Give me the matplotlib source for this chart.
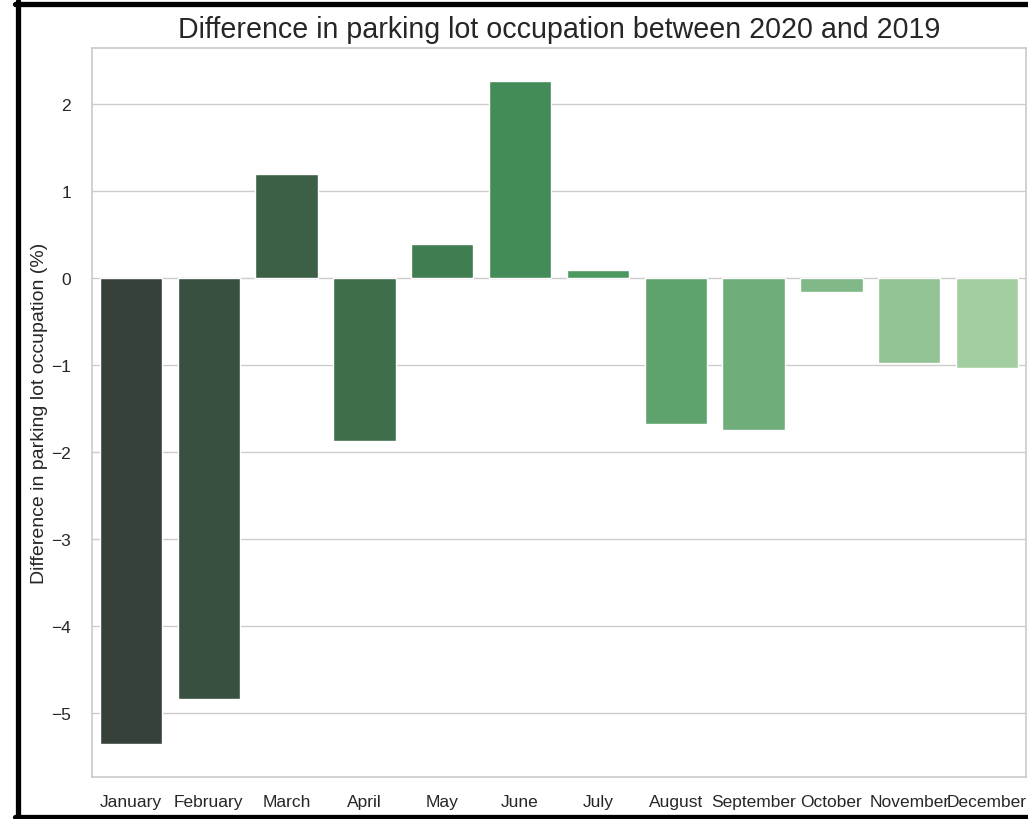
import matplotlib
matplotlib.use("Agg")
import matplotlib.pyplot as plt
import seaborn as sns
from matplotlib.lines import Line2D

# ---------------------------------------------
# Data
# ---------------------------------------------
months = ["January", "February", "March", "April", "May", "June", "July",
          "August", "September", "October", "November", "December"]
diff_pct = [-5.35, -4.84, 1.20, -1.87, 0.39, 2.26, 0.09,
            -1.68, -1.75, -0.16, -0.97, -1.03]

# ---------------------------------------------
# Plot
# ---------------------------------------------
sns.set_theme(style="whitegrid")
plt.rcParams['font.family'] = ['Liberation Sans', 'DejaVu Sans']

fig = plt.figure(figsize=(10.28, 8.2), dpi=100)
ax = fig.add_axes([0.0895, 0.0512, 0.9085, 0.8888])

# dark -> light green across the months
colors = sns.color_palette("Greens_d", len(months))[::-1]
sns.barplot(x=months, y=diff_pct, hue=months, palette=colors,
            legend=False, ax=ax, width=0.8)

ax.set_title("Difference in parking lot occupation between 2020 and 2019",
             fontsize=20.6, color="#262626", pad=8)
ax.set_ylabel("Difference in parking lot occupation (%)", fontsize=14,
              color="#262626")
ax.tick_params(axis="x", labelsize=12.5, pad=6)
ax.tick_params(axis="y", labelsize=12.5, pad=9)
ax.yaxis.set_label_coords(-0.047, 0.5)

# screenshot frame (left, top, bottom black edges)
W, H = 1028, 820
for xs, ys in [((17.5, 17.5), (2, 818)),
               ((15, W), (4.5, 4.5)),
               ((15, W), (818, 818))]:
    fig.add_artist(Line2D([x / W for x in xs], [1 - y / H for y in ys],
                          transform=fig.transFigure, color="black", lw=3.8))

fig.savefig("out.png", dpi=100)
